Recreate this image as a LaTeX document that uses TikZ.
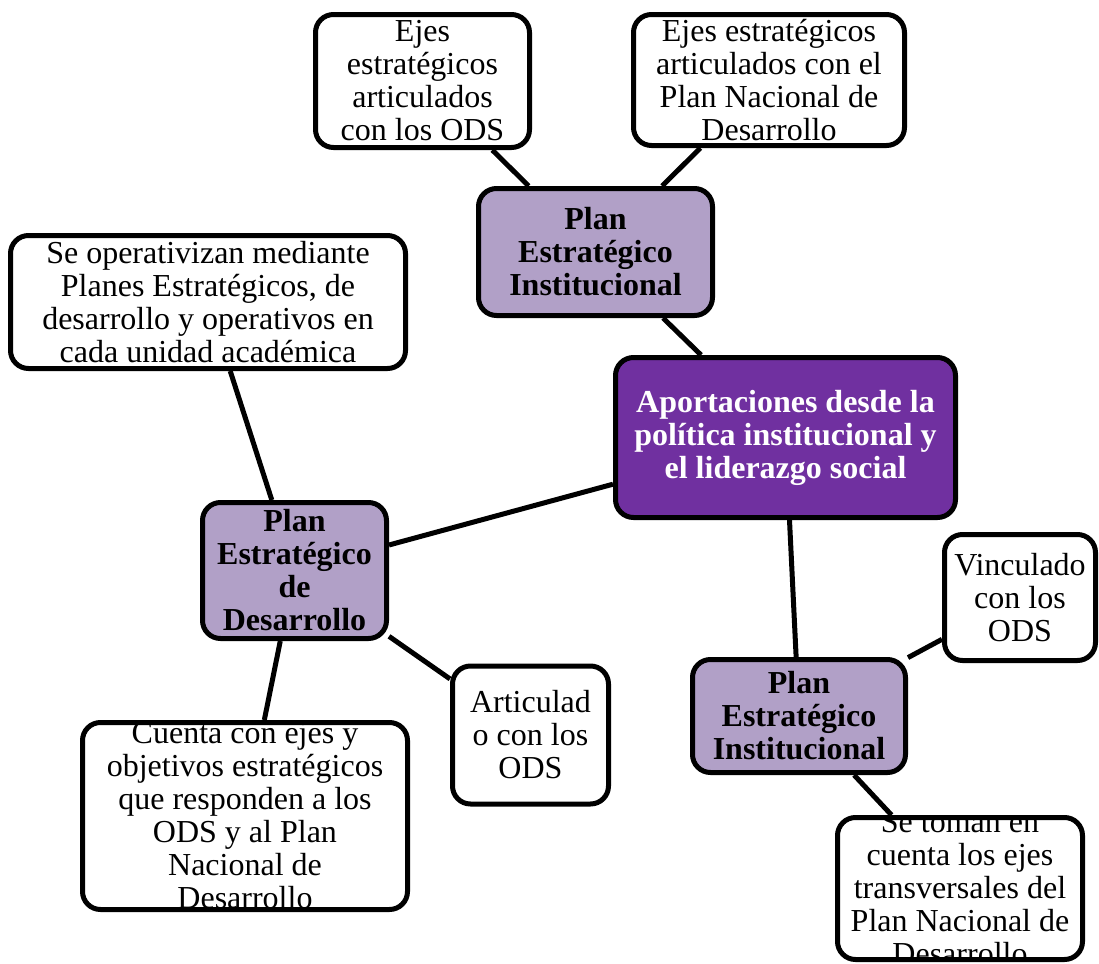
\documentclass[tikz,border=0pt]{standalone}
\usepackage{fontspec}
\setmainfont{Liberation Serif}
\usepackage{xcolor}
\usepackage{tikz}
\definecolor{PlanLila}{RGB}{177,160,199}
\definecolor{PlanMorado}{RGB}{112,48,160}
\newcommand{\letra}{\fontsize{16}{16.5}\selectfont}

\tikzset{
    base/.style={draw, line width=2.5pt, rounded corners=9pt, inner sep=0pt},
    rotulo/.style={align=center, font=\letra},
    caja/.style={base, fill=white,
        path picture={\node[rotulo] at (path picture bounding box.center) {#1};}},
    eje/.style={base, fill=PlanLila,
        path picture={\node[rotulo, font=\letra\bfseries] at (path picture bounding box.center) {#1};}},
    centro/.style={base, fill=PlanMorado,
        path picture={\node[rotulo, font=\letra\bfseries, text=white] at (path picture bounding box.center) {#1};}},
    conector/.style={line width=2.5pt}
}

\begin{document}
\begin{tikzpicture}[x=0.5pt, y=-0.5pt]
        % Page frame
        \useasboundingbox (0,0) rectangle (1099,964);

        % Centre
        \node[centro={Aportaciones desde la\\política institucional y\\el liderazgo social},
            minimum width=170pt, minimum height=80pt] (aporte) at (785.5,437.5) {};

        % Plans
        \node[eje={Plan\\Estratégico\\Institucional},
            minimum width=117pt, minimum height=63.5pt] (peiA) at (595.5,252) {};
        \node[eje={Plan\\Estratégico\\de\\Desarrollo},
            minimum width=92pt, minimum height=68pt] (ped) at (294.5,570.5) {};
        \node[eje={Plan\\Estratégico\\Institucional},
            minimum width=106.5pt, minimum height=56.5pt] (peiB) at (799,716) {};

        % Details
        \node[caja={Ejes\\estratégicos\\articulados\\con los ODS},
            minimum width=107pt, minimum height=66.5pt] (ejesODS) at (422.5,81) {};
        \node[caja={Ejes estratégicos\\articulados con el\\Plan Nacional de\\Desarrollo},
            minimum width=135.5pt, minimum height=65.5pt] (ejesPND) at (769,80) {};
        \node[caja={Se operativizan mediante\\Planes Estratégicos, de\\desarrollo y operativos en\\cada unidad académica},
            minimum width=197.5pt, minimum height=66.5pt] (opera) at (208,302) {};
        \node[caja={Articulad\\o con los\\ODS},
            minimum width=78pt, minimum height=69pt] (articula) at (530.5,735) {};
        \node[caja={Cuenta con ejes y\\objetivos estratégicos\\que responden a los\\ODS y al Plan\\Nacional de\\Desarrollo},
            minimum width=162.5pt, minimum height=93.5pt] (cuenta) at (245,816) {};
        \node[caja={Vinculado\\con los\\ODS},
            minimum width=75.5pt, minimum height=63pt] (vincula) at (1020,597.5) {};
        \node[caja={Se toman en\\cuenta los ejes\\transversales del\\Plan Nacional de\\Desarrollo},
            minimum width=122.5pt, minimum height=71pt] (toman) at (960,888.5) {};

        % Connectors
        \draw[conector] (aporte) -- (peiA);
        \draw[conector] (aporte) -- (ped);
        \draw[conector] (aporte) -- (peiB);
        \draw[conector] (peiA) -- (ejesODS);
        \draw[conector] (peiA) -- (ejesPND);
        \draw[conector] (ped) -- (opera);
        \draw[conector] (ped) -- (articula);
        \draw[conector] (ped) -- (cuenta);
        \draw[conector] (peiB) -- (vincula);
        \draw[conector] (peiB) -- (toman);
    \end{tikzpicture}
\end{document}
